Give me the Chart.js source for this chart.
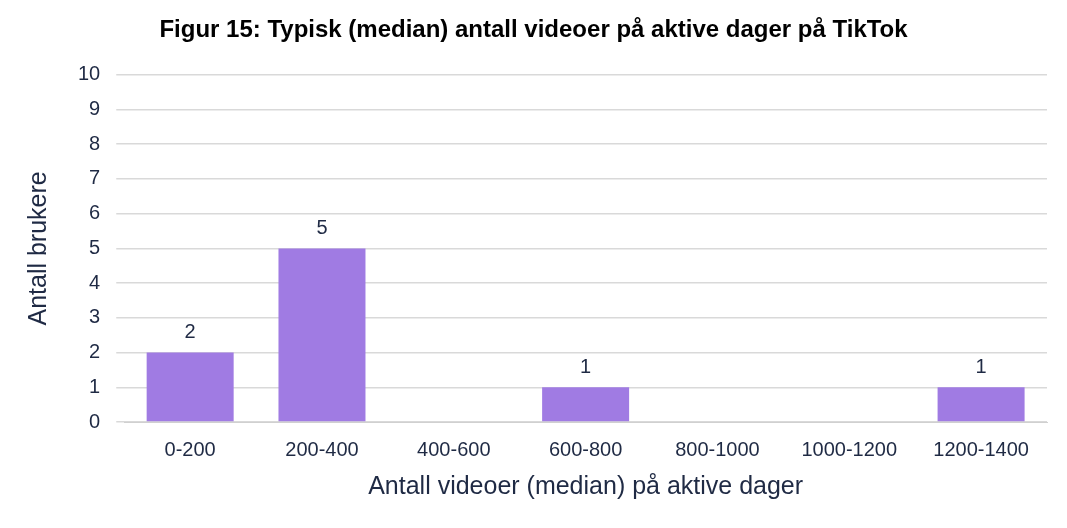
<!DOCTYPE html>
<html><head><meta charset="utf-8">
<script src="https://cdn.jsdelivr.net/npm/chart.js@4"></script>
<style>html,body{margin:0;background:#fff;}#w{width:1067px;height:528px;}</style>
</head><body><div id="w"><canvas id="c"></canvas></div>
<script>
const categories=["0-200","200-400","400-600","600-800","800-1000","1000-1200","1200-1400"];
const values=[2,5,0,1,0,0,1];
const yTicks=[0,1,2,3,4,5,6,7,8,9,10];
const txt='#1f2a44';
const labelPlugin={id:'lbl',afterDatasetsDraw(ch){
  const ctx=ch.ctx;const meta=ch.getDatasetMeta(0);
  ctx.save();ctx.fillStyle=txt;ctx.font='20px "Liberation Sans", Arial';ctx.textAlign='center';ctx.textBaseline='bottom';
  meta.data.forEach((b,i)=>{if(values[i]>0)ctx.fillText(values[i],b.x,b.y-10);});
  ctx.restore();}};
new Chart(document.getElementById('c'),{type:'bar',
 data:{labels:categories,datasets:[{data:values,backgroundColor:'#a07be3',categoryPercentage:1,barPercentage:0.66}]},
 options:{responsive:true,maintainAspectRatio:false,animation:false,
  layout:{padding:{left:20,right:20,top:10,bottom:22}},
  plugins:{legend:{display:false},tooltip:{enabled:false},
   title:{display:true,text:'Figur 15: Typisk (median) antall videoer på aktive dager på TikTok',color:'#000',font:{family:'"Liberation Sans", Arial',size:24,weight:'bold'},padding:{top:6,bottom:30}}},
  scales:{
   x:{grid:{display:false},border:{color:'#d0d0d0'},ticks:{color:txt,font:{family:'"Liberation Sans", Arial',size:20},padding:8},
      title:{display:true,text:'Antall videoer (median) på aktive dager',color:txt,font:{family:'"Liberation Sans", Arial',size:25},padding:{top:2}}},
   y:{min:0,max:10,afterBuildTicks(s){s.ticks=yTicks.map(v=>({value:v}));},
      grid:{color:'#d9d9d9',lineWidth:1.5},border:{display:false},
      ticks:{color:txt,font:{family:'"Liberation Sans", Arial',size:20},padding:16},
      title:{display:true,text:'Antall brukere',color:txt,font:{family:'"Liberation Sans", Arial',size:25},padding:{bottom:8}}}
  }},plugins:[labelPlugin]});
</script></body></html>
